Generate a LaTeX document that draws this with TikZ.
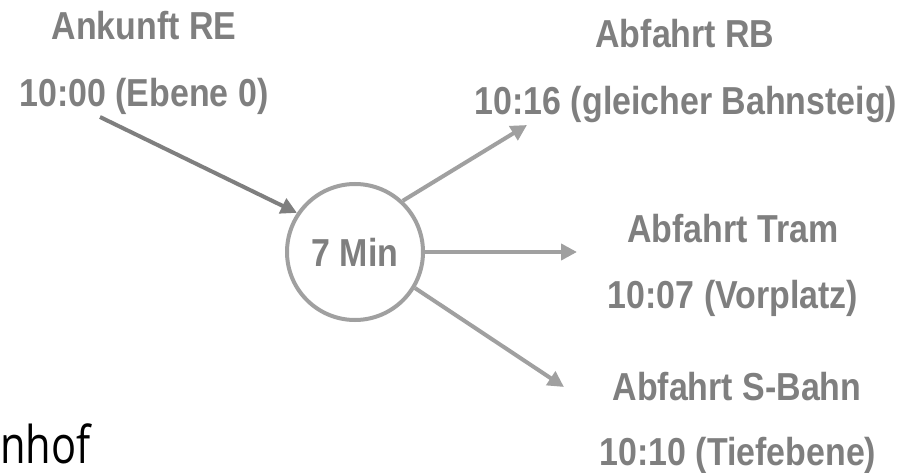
\documentclass[tikz,border=0pt]{standalone}
\usepackage{fontspec}
\usetikzlibrary{arrows.meta}
\newfontfamily\lblfont{Liberation Sans}[FakeStretch=0.87]
\newfontfamily\bgfont{Open Sans}[FakeStretch=0.8]
\definecolor{txtgray}{HTML}{7F7F7F}
\definecolor{lightgray}{HTML}{A0A0A0}
\tikzset{
  lbl/.style={inner sep=0pt, anchor=base, text=txtgray, font=\lblfont\bfseries\fontsize{39}{40}\selectfont},
  hub/.style={circle, draw=lightgray, line width=4pt, minimum size=136pt, inner sep=0pt, text=txtgray, font=\lblfont\bfseries\fontsize{39}{40}\selectfont},
  inarrow/.style={draw=txtgray, line width=4pt, -{Triangle[length=16pt,width=16pt]}},
  outarrow/.style={draw=lightgray, line width=4pt, -{Triangle[length=16pt,width=16pt]}}
}
\begin{document}
\begin{tikzpicture}[x=1pt,y=1pt]
\useasboundingbox[fill=white] (0,-473) rectangle (921,0);
% labels
\node[lbl] (ankA) at (144,-40) {Ankunft RE};
\node[lbl] (ankB) at (144,-107) {10:00 (Ebene 0)};
\node[lbl] (rbA) at (685,-48) {Abfahrt RB};
\node[lbl] (rbB) at (686,-115) {10:16 (gleicher Bahnsteig)};
\node[lbl] (trA) at (733,-243) {Abfahrt Tram};
\node[lbl] (trB) at (733,-308) {10:07 (Vorplatz)};
\node[lbl] (sbA) at (737,-400) {Abfahrt S-Bahn};
\node[lbl] (sbB) at (738,-465) {10:10 (Tiefebene)};
% hub
\node[hub] (c) at (355,-252) {7 Min};
% background text fragment
\node[inner sep=0pt, anchor=base west, font=\bgfont\fontsize{52}{54}\selectfont] (bh) at (0,-463) {nhof};
% connector ends
\coordinate (inStart) at (100,-117);
\coordinate (rbEnd) at (527,-125);
\coordinate (trEnd) at (577,-252);
\coordinate (sbEnd) at (564,-387);
% connectors
\draw[inarrow] (inStart) -- (c.146);
\draw[outarrow] (c.47) -- (rbEnd);
\draw[outarrow] (c.0) -- (trEnd);
\draw[outarrow] (c.-31) -- (sbEnd);
\end{tikzpicture}
\end{document}
